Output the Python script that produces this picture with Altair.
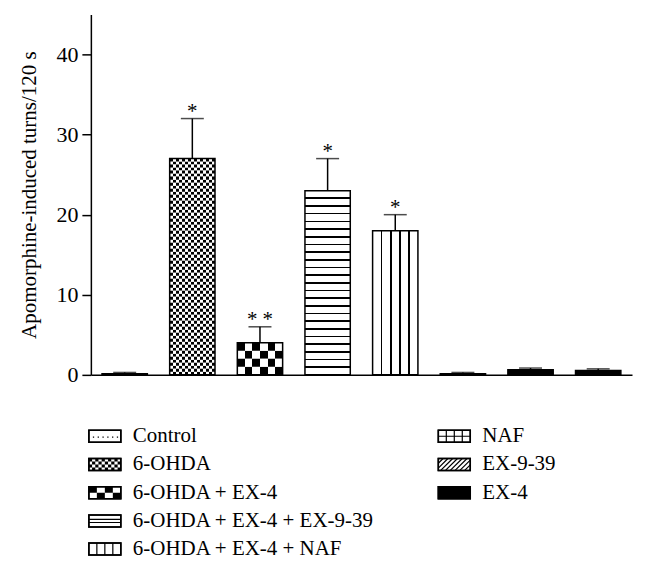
import altair as alt
import pandas as pd

# ---------------- data ----------------
groups = ["Control", "6-OHDA", "6-OHDA + EX-4", "6-OHDA + EX-4 + EX-9-39",
          "6-OHDA + EX-4 + NAF", "NAF", "EX-9-39", "EX-4"]
means = [0.15, 27, 4, 23, 18, 0.15, 0.65, 0.55]
uppers = [0.3, 32, 6, 27, 20, 0.3, 0.85, 0.75]
sig = ["", "*", "* *", "*", "*", "", "", ""]
legend_col = [0, 0, 0, 0, 0, 1, 1, 1]
legend_row = [0, 1, 2, 3, 4, 0, 1, 2]

# ---------------- styles ----------------
FONT = "Liberation Serif"
base_fill = {"Control": "white", "6-OHDA": "white", "6-OHDA + EX-4": "white",
             "6-OHDA + EX-4 + EX-9-39": "white", "6-OHDA + EX-4 + NAF": "white",
             "NAF": "white", "EX-9-39": "black", "EX-4": "black"}
# checker patterns: (columns, target cell height in data units)
checker = {"6-OHDA": (15, 0.375), "6-OHDA + EX-4": (6, 1.0)}

df = pd.DataFrame({"group": groups, "mean": means, "upper": uppers, "sig": sig})

def band_gradient(n, first_black, horizontal=True):
    stops = []
    for c in range(n):
        col = "black" if ((c % 2 == 0) == first_black) else "white"
        stops.append({"offset": c / n, "color": col})
        stops.append({"offset": (c + 1) / n, "color": col})
    g = {"gradient": "linear", "stops": stops}
    if horizontal:
        g.update(x1=0, y1=0, x2=1, y2=0)
    else:
        g.update(x1=0, y1=0, x2=0, y2=1)
    return g

def line_gradient(n, t, along_y):
    stops = [{"offset": 0, "color": "white"}]
    for k in range(1, n):
        p = k / n
        stops += [{"offset": p - t / 2, "color": "white"},
                  {"offset": p - t / 2, "color": "black"},
                  {"offset": p + t / 2, "color": "black"},
                  {"offset": p + t / 2, "color": "white"}]
    stops.append({"offset": 1, "color": "white"})
    g = {"gradient": "linear", "stops": stops}
    if along_y:
        g.update(x1=0, y1=0, x2=0, y2=1)
    else:
        g.update(x1=0, y1=0, x2=1, y2=0)
    return g

# checker rows derived from bar values
rows = []
for g, (ncol, cellh) in checker.items():
    v = means[groups.index(g)]
    n = max(1, round(v / cellh))
    for k in range(n):
        rows.append({"group": g, "y0": v * k / n, "y1": v * (k + 1) / n,
                     "phase": k % 2, "kind": g})
rows_df = pd.DataFrame(rows)

xenc = alt.X("group:N", sort=groups,
             scale=alt.Scale(domain=groups, paddingInner=0.33, paddingOuter=0.165),
             axis=alt.Axis(title=None, labels=False, ticks=False, domain=True))
yscale = alt.Scale(domain=[0, 45], nice=False)
yenc = alt.Y("mean:Q", scale=yscale,
             axis=alt.Axis(title="Apomorphine-induced turns/120 s", values=[0, 10, 20, 30, 40],
                           grid=False))

base = alt.Chart(df)
bars = base.mark_bar(strokeWidth=0).encode(
    x=xenc, y=yenc,
    color=alt.Color("group:N", scale=alt.Scale(domain=groups, range=[base_fill[g] for g in groups]),
                    legend=None))

hstripes = base.transform_filter(alt.datum.group == "6-OHDA + EX-4 + EX-9-39").mark_bar(
    fill=line_gradient(24, 0.009, True), strokeWidth=0).encode(x=xenc, y=yenc)
vstripes = base.transform_filter(alt.datum.group == "6-OHDA + EX-4 + NAF").mark_bar(
    fill=line_gradient(5, 0.035, False), strokeWidth=0).encode(x=xenc, y=yenc)

checker_layers = []
for g, (ncol, cellh) in checker.items():
    for ph in (0, 1):
        checker_layers.append(
            alt.Chart(rows_df).transform_filter(
                (alt.datum.kind == g) & (alt.datum.phase == ph)
            ).mark_rect(fill=band_gradient(ncol, ph == 1, True), strokeWidth=0).encode(
                x=xenc, y=alt.Y("y0:Q", scale=yscale), y2="y1:Q"))

outline = base.mark_bar(fillOpacity=0, stroke="black", strokeWidth=1.5).encode(x=xenc, y=yenc)
stem = base.mark_rule(color="black", strokeWidth=1.5).encode(x=xenc, y=yenc, y2="upper:Q")
cap = base.mark_tick(color="black", thickness=1.5, size=23, orient="horizontal").encode(
    x=xenc, y=alt.Y("upper:Q", scale=yscale))
stars = base.mark_text(font=FONT, fontSize=21, baseline="alphabetic", dy=-1, color="black").encode(
    x=xenc, y=alt.Y("upper:Q", scale=yscale), text="sig:N")

main = alt.layer(bars, hstripes, vstripes, *checker_layers, outline, stem, cap, stars).properties(
    width=542, height=361)

# ---------------- legend ----------------
leg_df = pd.DataFrame({"label": groups, "col": legend_col, "row": legend_row})
H = 0.375

def rect_path(x0, y0, x1, y1):
    return f"M{x0:.4f},{y0:.4f}H{x1:.4f}V{y1:.4f}H{x0:.4f}Z"

def checker_path(nc, nr):
    w = 2 / nc
    h = 2 * H / nr
    parts = []
    for r in range(nr):
        for c in range(nc):
            if (r + c) % 2 == 0:
                parts.append(rect_path(-1 + c * w, -H + r * h, -1 + (c + 1) * w, -H + (r + 1) * h))
    return "".join(parts)

def diag_path():
    parts = []
    step = 0.3
    s = -1 - 2 * H
    while s < 1:
        xa, ya, xb, yb = s, H, s + 2 * H, -H
        if xa < -1:
            ya = H - (-1 - xa)
            xa = -1
        if xb > 1:
            yb = -H + (xb - 1)
            xb = 1
        if xb > xa:
            parts.append(f"M{xa:.4f},{ya:.4f}L{xb:.4f},{yb:.4f}")
        s += step
    return "".join(parts)

fill_paths = {
    "6-OHDA": checker_path(10, 4),
    "6-OHDA + EX-4": checker_path(4, 2),
    "EX-4": rect_path(-1, -H, 1, H),
}
line_paths = {
    "Control": "".join(f"M{x:.3f},0.05h0.08" for x in [-0.75, -0.45, -0.15, 0.15, 0.45, 0.75]),
    "6-OHDA + EX-4 + EX-9-39": "M-1,-0.1H1M-1,0.1H1",
    "6-OHDA + EX-4 + NAF": "M-0.5,-0.375V0.375M0,-0.375V0.375M0.5,-0.375V0.375",
    "NAF": "M-0.5,-0.375V0.375M0,-0.375V0.375M0.5,-0.375V0.375M-1,0H1",
    "EX-9-39": diag_path(),
}

lx = alt.X("col:Q", scale=alt.Scale(domain=[0, 1], range=[14, 364]), axis=None)
ly = alt.Y("row:O", scale=alt.Scale(type="point", padding=0.3), axis=None)
lbase = alt.Chart(leg_df)
swatch_bg = lbase.mark_point(shape=rect_path(-1, -H, 1, H), size=1024, filled=True,
                             fill="white", stroke="black", strokeWidth=1.5, opacity=1).encode(x=lx, y=ly)
pat_layers = []
for g, p in fill_paths.items():
    pat_layers.append(lbase.transform_filter(alt.datum.label == g).mark_point(
        shape=p, size=1024, filled=True, fill="black", strokeWidth=0, opacity=1).encode(x=lx, y=ly))
for g, p in line_paths.items():
    pat_layers.append(lbase.transform_filter(alt.datum.label == g).mark_point(
        shape=p, size=1024, filled=False, stroke="black", strokeWidth=1.2, opacity=1).encode(x=lx, y=ly))
swatch_border = lbase.mark_point(shape=rect_path(-1, -H, 1, H), size=1024, filled=False,
                                 stroke="black", strokeWidth=1.5, opacity=1).encode(x=lx, y=ly)
ltext = lbase.mark_text(font=FONT, fontSize=21, align="left", baseline="middle", dx=28,
                        color="black").encode(x=lx, y=ly, text="label:N")
legend = alt.layer(swatch_bg, *pat_layers, swatch_border, ltext).properties(width=542, height=130)

chart = alt.vconcat(main, legend, spacing=39).properties(
    padding={"left": 11, "top": 6, "right": 5, "bottom": 5}
).configure_view(stroke=None).configure_axis(
    labelFont=FONT, labelFontSize=22, labelColor="black", titleFont=FONT, titleFontSize=21,
    titleFontWeight="normal", titleColor="black", domainColor="black", domainWidth=1.5,
    tickColor="black", tickWidth=1.5, tickSize=9, labelPadding=4, titlePadding=16
)

chart.save("out.html", embed_options={"renderer": "svg", "actions": False})
